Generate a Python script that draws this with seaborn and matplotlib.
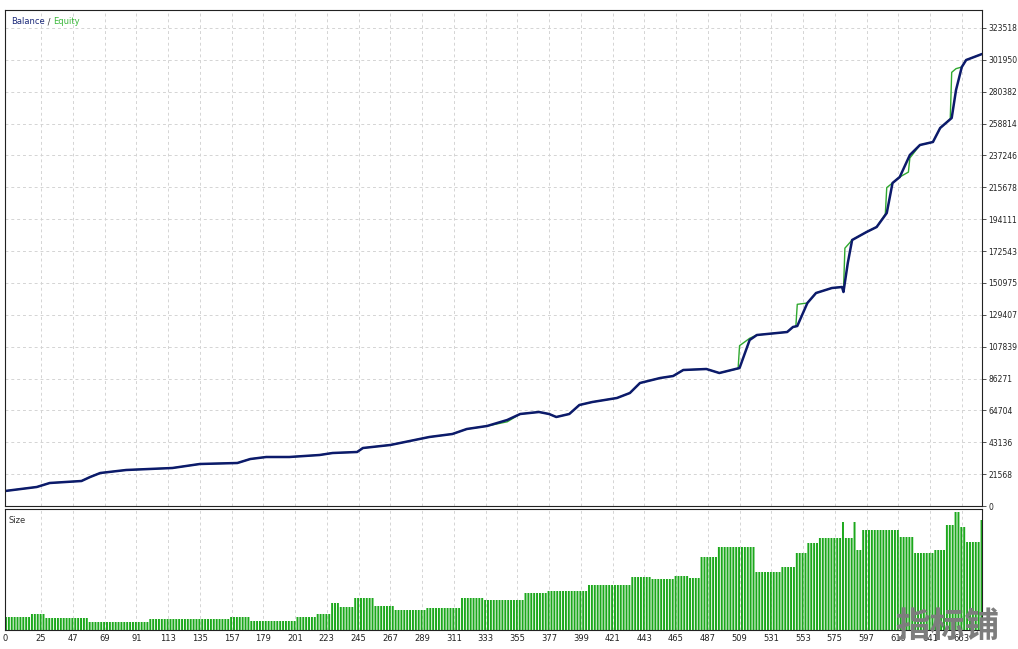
import numpy as np
import matplotlib
matplotlib.use("Agg")
import matplotlib.pyplot as plt
import seaborn as sns

# balance curve (trade number, account value)
bal_x = [0, 22, 31, 53, 59, 66, 84, 116, 135, 161, 170, 181, 197, 218, 227, 244, 248, 267, 294, 310,
         320, 334, 348, 357, 370, 377, 382, 391, 398, 407, 424, 433, 440, 454, 463, 470, 486, 495, 509, 516,
         521, 542, 546, 549, 556, 562, 573, 580, 581, 584, 587, 597, 604, 611, 615, 620, 627, 634, 643, 648,
         656, 659, 663, 666, 677]
bal_y = [10150, 12860, 15570, 16920, 19630, 22330, 24370, 25720, 28430, 29100, 31810, 33160, 33160, 34520,
         35870, 36550, 39250, 41290, 46700, 48730, 52110, 54140, 58210, 62270, 63620, 62270, 60240, 62270,
         68360, 70390, 73090, 76480, 83250, 86630, 87980, 92050, 92720, 90010, 93400, 112350, 115730, 117760,
         121150, 121820, 137390, 144160, 147540, 148220, 144840, 164460, 180030, 185440, 188830, 198300,
         218610, 222670, 237560, 244330, 246360, 255830, 262600, 281550, 297120, 301850, 305910]

# equity curve
eq_x = [0, 22, 31, 53, 59, 66, 84, 116, 135, 161, 170, 181, 197, 218, 227, 244, 248, 267, 294, 310,
        320, 334, 348, 357, 370, 377, 382, 391, 398, 407, 424, 433, 440, 454, 463, 470, 486, 495, 508, 509,
        516, 521, 542, 546, 548, 549, 556, 562, 573, 580, 581, 582, 587, 597, 604, 610, 611, 615, 620, 626,
        627, 634, 643, 648, 655, 656, 659, 663, 666, 677]
eq_y = [10150, 12860, 15570, 16920, 19630, 22330, 24370, 25720, 28430, 29100, 31810, 33160, 33160, 34520,
        35870, 36550, 39250, 41290, 46700, 48730, 52110, 54140, 57000, 62270, 63620, 62270, 60240, 62270,
        68360, 70390, 73090, 76480, 83250, 86630, 87980, 92050, 92720, 90010, 93000, 108500, 113500, 115730,
        117760, 121150, 121500, 136500, 137390, 144160, 147540, 148220, 145500, 174500, 180030, 185440,
        188830, 197500, 215500, 218610, 222670, 226000, 235500, 244330, 246360, 255830, 262000, 293500,
        296000, 297120, 301850, 305910]

# lot size, by runs of trades (first trade of run, size)
size_start = [0, 17, 28, 57, 100, 156, 170, 201, 215, 225, 232, 241, 255, 269, 292, 315, 331, 360, 375, 403,
              433, 447, 463, 474, 481, 493, 519, 537, 548, 555, 564, 587, 594, 620, 629, 643, 652, 657, 661,
              666, 675]
size_val = [1.3, 1.6, 1.2, 0.8, 1.1, 1.3, 0.9, 1.3, 1.6, 2.7, 2.3, 3.2, 2.4, 2.0, 2.2, 3.2, 3.0, 3.7, 3.9,
            4.5, 5.3, 5.1, 5.4, 5.2, 7.3, 8.3, 5.8, 6.3, 7.7, 8.7, 9.2, 8.0, 10.0, 9.3, 7.7, 8.0, 10.5, 11.8,
            10.3, 8.8, 11.0]
n_trades = 677
spike_idx = [580, 588]
spike_val = [10.8, 10.8]

y_ticks = [0, 21568, 43136, 64704, 86271, 107839, 129407, 150975, 172543, 194111, 215678, 237246,
           258814, 280382, 301950, 323518]
x_ticks = [0, 25] + list(range(47, 664, 22))

sns.set_style("white")
plt.rcParams['font.family'] = ['DejaVu Sans']

fig = plt.figure(figsize=(10.18, 6.49), dpi=100)
ax = fig.add_axes([5 / 1018, 1 - 506 / 649, 977 / 1018, 496 / 649])
ax2 = fig.add_axes([5 / 1018, 1 - 630 / 649, 977 / 1018, 121 / 649])

grid_kw = dict(color='#d4d4d4', linestyle=(0, (3, 3)), linewidth=0.7)

# top panel
sns.lineplot(x=eq_x, y=eq_y, ax=ax, color='#2fa82f', linewidth=1.0, sort=False, estimator=None)
sns.lineplot(x=bal_x, y=bal_y, ax=ax, color='#0c1a6b', linewidth=1.8, sort=False, estimator=None)
ax.set_xlim(0, n_trades)
ax.set_ylim(0, 335700)
ax.set_yticks(y_ticks)
ax.set_yticklabels([str(v) for v in y_ticks], fontsize=5.5, color='#222222')
ax.yaxis.tick_right()
ax.tick_params(axis='y', right=True, length=3, width=0.6, pad=1.5, color='#333333')
ax.set_xticks(x_ticks[1:])
ax.tick_params(axis='x', bottom=False, labelbottom=False)
ax.grid(True, **grid_kw)
for s in ax.spines.values():
    s.set_color('#222222')
    s.set_linewidth(0.8)
ax.set_xlabel('')
ax.set_ylabel('')

t1 = ax.text(0.006, 0.985, 'Balance', transform=ax.transAxes, fontsize=6, color='#1c2a7a', va='top', ha='left')
t2 = ax.annotate(' / ', xy=(1, 0), xycoords=t1, va='bottom', ha='left', fontsize=6, color='#333333')
ax.annotate('Equity', xy=(1, 0), xycoords=t2, va='bottom', ha='left', fontsize=6, color='#3cb83c')

# bottom panel
size = np.repeat(size_val, np.diff(size_start + [n_trades]))
size[spike_idx] = spike_val
bar_x = np.arange(0, n_trades, 2)
ax2.bar(bar_x, size[bar_x], width=1.35, color='#1ca81c', linewidth=0, align='edge', snap=False)
ax2.set_xlim(0, n_trades)
ax2.set_ylim(0, 12.1)
ax2.set_yticks([])
ax2.set_xticks(x_ticks)
ax2.set_xticklabels([str(v) for v in x_ticks], fontsize=6, color='#222222')
ax2.tick_params(axis='x', length=0, pad=3)
ax2.grid(True, axis='x', **grid_kw)
ax2.set_axisbelow(True)
for s in ax2.spines.values():
    s.set_color('#222222')
    s.set_linewidth(0.8)
ax2.text(0.004, 0.94, 'Size', transform=ax2.transAxes, fontsize=6, color='#333333', va='top', ha='left')

# site watermark
fig.text(0.931, 0.035, '指标铺', fontsize=25, fontweight='bold', color='#7d7d7d',
         family=['Noto Sans CJK SC', 'DejaVu Sans'], ha='center', va='center')

fig.savefig('out.png', dpi=100, facecolor='white')
